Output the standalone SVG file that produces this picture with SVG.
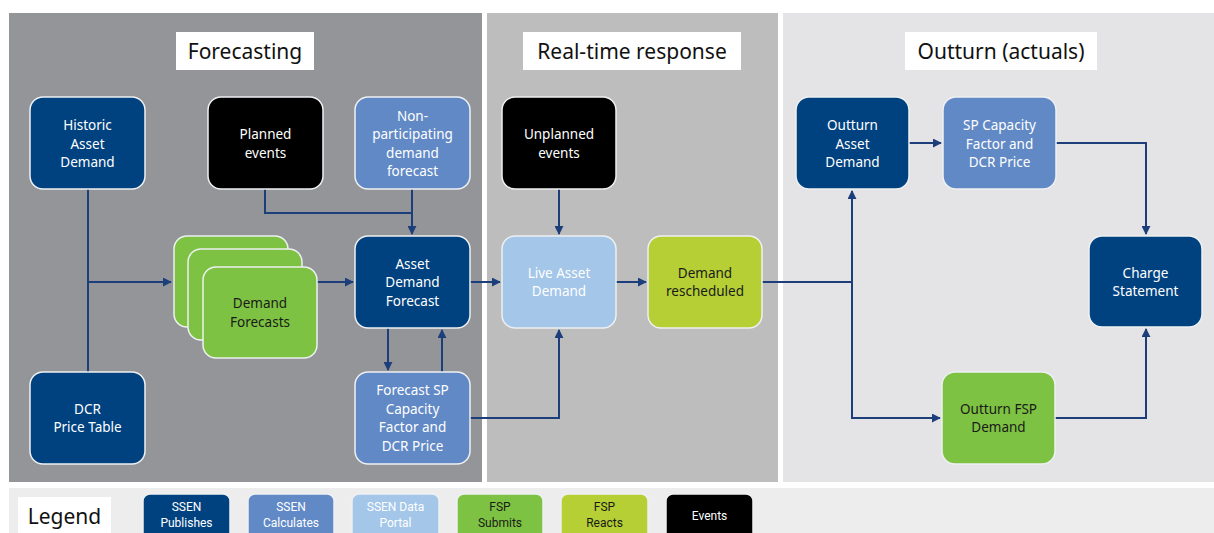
<svg xmlns="http://www.w3.org/2000/svg" width="1214" height="533" viewBox="0 0 1214 533">
<defs>
<marker id="ah" viewBox="0 0 10 10" refX="9" refY="5" markerWidth="4.5" markerHeight="4.5" orient="auto-start-reverse" markerUnits="strokeWidth">
<path d="M0,0 L10,5 L0,10 z" fill="#1c3f7c"/>
</marker>
<style>
.title{font-family:"Noto Sans","Open Sans",sans-serif;font-size:21px;fill:#111;text-anchor:middle}
.tbox{fill:#fff}
.n{stroke:#eef0f2;stroke-width:1.5}
.t{font-family:"Noto Sans","Open Sans",sans-serif;font-size:13.5px;text-anchor:middle;fill:#fff}
.td{fill:#1a1a1a}
.navy{fill:#00427f}
.mid{fill:#6189c6}
.light{fill:#a3c6e9}
.green{fill:#7dc242}
.lime{fill:#b5cf35}
.black{fill:#000}
.c{fill:none;stroke:#1c3f7c;stroke-width:2}
.lg{font-family:"Roboto","Liberation Sans",sans-serif;font-size:12px;text-anchor:middle;fill:#fff}
</style>
</defs>
<rect width="1214" height="533" fill="#fff"/>
<g id="panels">
<rect x="9" y="13" width="473" height="469" fill="#939598"/>
<rect x="487" y="13" width="291" height="469" fill="#bdbdbd"/>
<rect x="783" y="13" width="431" height="469" fill="#e4e4e6"/>
<rect x="9" y="488" width="1205" height="45" fill="#ededed"/>
<rect class="tbox" x="176" y="32" width="138" height="38"/>
<text class="title" x="245" y="58.5">Forecasting</text>
<rect class="tbox" x="523" y="32" width="218" height="38"/>
<text class="title" x="632" y="58.5">Real-time response</text>
<rect class="tbox" x="905" y="32" width="192" height="38"/>
<text class="title" x="1001" y="58.5">Outturn (actuals)</text>
</g>
<g id="connectors">
<path class="c" d="M88,189 V372"/>
<path class="c" d="M88,282 H171" marker-end="url(#ah)"/>
<path class="c" d="M317,282 H353" marker-end="url(#ah)"/>
<path class="c" d="M265,189 V213 H412"/>
<path class="c" d="M412,189 V234" marker-end="url(#ah)"/>
<path class="c" d="M388,328 V370" marker-end="url(#ah)"/>
<path class="c" d="M442,372 V330" marker-end="url(#ah)"/>
<path class="c" d="M470,282 H500" marker-end="url(#ah)"/>
<path class="c" d="M470,418 H559 V330" marker-end="url(#ah)"/>
<path class="c" d="M559,189 V234" marker-end="url(#ah)"/>
<path class="c" d="M616,282 H646" marker-end="url(#ah)"/>
<path class="c" d="M762,282 H852"/>
<path class="c" d="M852,282 V191" marker-end="url(#ah)"/>
<path class="c" d="M852,282 V418 H940" marker-end="url(#ah)"/>
<path class="c" d="M909,143 H941" marker-end="url(#ah)"/>
<path class="c" d="M1056,143 H1146 V234" marker-end="url(#ah)"/>
<path class="c" d="M1055,418 H1146 V329" marker-end="url(#ah)"/>
</g>
<g id="historic">
<rect class="n navy" x="30" y="97" width="115" height="92" rx="13"/>
<text class="t" x="87.5"><tspan x="87.5" y="130">Historic</tspan><tspan x="87.5" y="148.5">Asset</tspan><tspan x="87.5" y="167">Demand</tspan></text>
</g>
<g id="planned">
<rect class="n black" x="208" y="97" width="115" height="92" rx="13"/>
<text class="t"><tspan x="265.5" y="139">Planned</tspan><tspan x="265.5" y="157.5">events</tspan></text>
</g>
<g id="nonpart">
<rect class="n mid" x="355" y="97" width="115" height="92" rx="13"/>
<text class="t"><tspan x="412.5" y="120.5">Non-</tspan><tspan x="412.5" y="139">participating</tspan><tspan x="412.5" y="157.5">demand</tspan><tspan x="412.5" y="176">forecast</tspan></text>
</g>
<g id="demandforecasts">
<rect class="n green" x="174" y="236" width="114" height="91" rx="13"/>
<rect class="n green" x="188" y="249" width="114" height="91" rx="13"/>
<rect class="n green" x="203" y="267" width="114" height="91" rx="13"/>
<text class="t td"><tspan x="260" y="308">Demand</tspan><tspan x="260" y="326.5">Forecasts</tspan></text>
</g>
<g id="assetforecast">
<rect class="n navy" x="355" y="236" width="115" height="92" rx="13"/>
<text class="t"><tspan x="412.5" y="268.5">Asset</tspan><tspan x="412.5" y="287">Demand</tspan><tspan x="412.5" y="305.5">Forecast</tspan></text>
</g>
<g id="dcrtable">
<rect class="n navy" x="30" y="372" width="115" height="92" rx="13"/>
<text class="t"><tspan x="87.5" y="413.5">DCR</tspan><tspan x="87.5" y="432">Price Table</tspan></text>
</g>
<g id="forecastsp">
<rect class="n mid" x="355" y="372" width="115" height="92" rx="13"/>
<text class="t"><tspan x="412.5" y="395">Forecast SP</tspan><tspan x="412.5" y="413.5">Capacity</tspan><tspan x="412.5" y="432">Factor and</tspan><tspan x="412.5" y="450.5">DCR Price</tspan></text>
</g>
<g id="unplanned">
<rect class="n black" x="502" y="97" width="114" height="92" rx="13"/>
<text class="t"><tspan x="559" y="139">Unplanned</tspan><tspan x="559" y="157.5">events</tspan></text>
</g>
<g id="live">
<rect class="n light" x="502" y="236" width="114" height="92" rx="13"/>
<text class="t"><tspan x="559" y="277.5">Live Asset</tspan><tspan x="559" y="296">Demand</tspan></text>
</g>
<g id="rescheduled">
<rect class="n lime" x="648" y="236" width="114" height="92" rx="13"/>
<text class="t td"><tspan x="705" y="277.5">Demand</tspan><tspan x="705" y="296">rescheduled</tspan></text>
</g>
<g id="outturnasset">
<rect class="n navy" x="796" y="97" width="113" height="92" rx="13"/>
<text class="t"><tspan x="852.5" y="130">Outturn</tspan><tspan x="852.5" y="148.5">Asset</tspan><tspan x="852.5" y="167">Demand</tspan></text>
</g>
<g id="spcapacity">
<rect class="n mid" x="943" y="97" width="113" height="92" rx="13"/>
<text class="t"><tspan x="999.5" y="130">SP Capacity</tspan><tspan x="999.5" y="148.5">Factor and</tspan><tspan x="999.5" y="167">DCR Price</tspan></text>
</g>
<g id="charge">
<rect class="n navy" x="1089" y="236" width="113" height="91" rx="13"/>
<text class="t"><tspan x="1145.5" y="277.5">Charge</tspan><tspan x="1145.5" y="296">Statement</tspan></text>
</g>
<g id="outturnfsp">
<rect class="n green" x="942" y="372" width="113" height="92" rx="13"/>
<text class="t td"><tspan x="998.5" y="413.5">Outturn FSP</tspan><tspan x="998.5" y="432">Demand</tspan></text>
</g>
<g id="legend">
<rect x="18" y="497" width="93" height="40" fill="#fff"/>
<text x="64.5" y="524" font-family="Noto Sans, Open Sans, sans-serif" font-size="21" text-anchor="middle" fill="#111">Legend</text>
<rect class="n navy" x="143" y="494" width="87" height="50" rx="7"/>
<text class="lg"><tspan x="186.5" y="511">SSEN</tspan><tspan x="186.5" y="527">Publishes</tspan></text>
<rect class="n mid" x="248" y="494" width="86" height="50" rx="7"/>
<text class="lg"><tspan x="291" y="511">SSEN</tspan><tspan x="291" y="527">Calculates</tspan></text>
<rect class="n light" x="352" y="494" width="87" height="50" rx="7"/>
<text class="lg"><tspan x="395.5" y="511">SSEN Data</tspan><tspan x="395.5" y="527">Portal</tspan></text>
<rect class="n green" x="457" y="494" width="86" height="50" rx="7"/>
<text class="lg" fill="#1a1a1a" style="fill:#1a1a1a"><tspan x="500" y="511">FSP</tspan><tspan x="500" y="527">Submits</tspan></text>
<rect class="n lime" x="561" y="494" width="87" height="50" rx="7"/>
<text class="lg" style="fill:#1a1a1a"><tspan x="604.5" y="511">FSP</tspan><tspan x="604.5" y="527">Reacts</tspan></text>
<rect class="n black" x="666" y="494" width="87" height="50" rx="7"/>
<text class="lg"><tspan x="709.5" y="520">Events</tspan></text>
</g>
</svg>
